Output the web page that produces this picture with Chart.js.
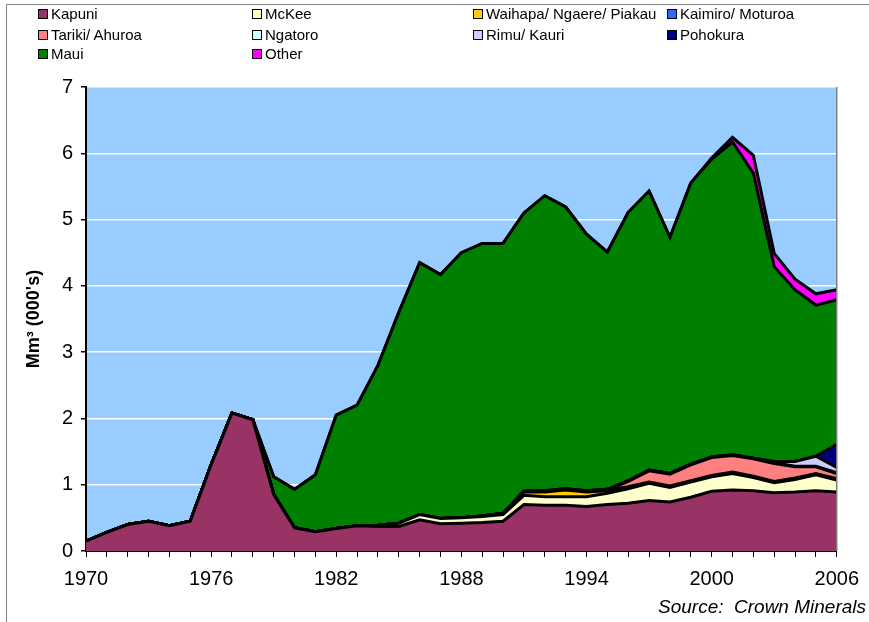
<!DOCTYPE html>
<html>
<head>
<meta charset="utf-8">
<script src="https://cdn.jsdelivr.net/npm/chart.js@4.4.1/dist/chart.umd.min.js"></script>
<style>
  html, body { margin: 0; padding: 0; background: #fff; overflow: hidden; }
  #wrap { position: relative; width: 869px; height: 622px; overflow: hidden; }
  #legend .item { position: absolute; font: 15px "Liberation Sans", Arial, sans-serif; color: #000; white-space: nowrap; line-height: 18px; }
  #legend .box { display: inline-block; width: 8px; height: 8px; border: 1px solid #000; margin-right: 3px; vertical-align: 0px; }
  #source { position: absolute; left: 658px; top: 596px; font: italic 19px "Liberation Sans", Arial, sans-serif; white-space: nowrap; }
</style>
</head>
<body>
<div id="wrap">
  <canvas id="myChart" width="869" height="622"></canvas>
  <div id="legend"></div>
  <div id="source">Source:&nbsp; Crown Minerals</div>
</div>
<script>
// years on the x axis
var years = [1970, 1971, 1972, 1973, 1974, 1975, 1976, 1977, 1978, 1979,
             1980, 1981, 1982, 1983, 1984, 1985, 1986, 1987, 1988, 1989,
             1990, 1991, 1992, 1993, 1994, 1995, 1996, 1997, 1998, 1999,
             2000, 2001, 2002, 2003, 2004, 2005, 2006];

// production by field, Mm3 (000's)
var kapuni = [0.15, 0.28, 0.40, 0.45, 0.38, 0.45, 1.30, 2.08, 1.98, 0.85,
              0.35, 0.29, 0.34, 0.38, 0.37, 0.37, 0.47, 0.41, 0.42, 0.43,
              0.45, 0.70, 0.69, 0.69, 0.67, 0.70, 0.72, 0.76, 0.74, 0.81,
              0.90, 0.92, 0.91, 0.88, 0.89, 0.91, 0.89];
var mckee = [0, 0, 0, 0, 0, 0, 0, 0, 0, 0,
             0, 0, 0, 0, 0.02, 0.05, 0.08, 0.08, 0.08, 0.09,
             0.10, 0.14, 0.13, 0.13, 0.15, 0.17, 0.22, 0.26, 0.22, 0.23,
             0.22, 0.25, 0.20, 0.15, 0.19, 0.24, 0.18];
var waihapa = [0, 0, 0, 0, 0, 0, 0, 0, 0, 0,
               0, 0, 0, 0, 0, 0, 0, 0, 0, 0.01,
               0.02, 0.05, 0.07, 0.10, 0.07, 0.04, 0.02, 0.01, 0.01, 0.01,
               0.01, 0.01, 0.01, 0.01, 0.01, 0.01, 0.01];
var kaimiro = [0, 0, 0, 0, 0, 0, 0, 0, 0, 0,
               0, 0, 0, 0, 0, 0, 0, 0, 0, 0,
               0, 0.01, 0.01, 0.01, 0.01, 0.01, 0.01, 0.01, 0.01, 0.01,
               0.01, 0.01, 0.01, 0.01, 0.01, 0.01, 0.01];
var tariki = [0, 0, 0, 0, 0, 0, 0, 0, 0, 0,
              0, 0, 0, 0, 0, 0, 0, 0, 0, 0,
              0, 0, 0, 0, 0, 0, 0.08, 0.17, 0.18, 0.24,
              0.27, 0.25, 0.26, 0.27, 0.17, 0.10, 0.08];
var ngatoro = [0, 0, 0, 0, 0, 0, 0, 0, 0, 0,
               0, 0, 0, 0, 0, 0, 0, 0, 0, 0,
               0, 0, 0.01, 0.01, 0.01, 0.01, 0.01, 0.01, 0.01, 0.01,
               0.01, 0.01, 0.01, 0.01, 0.01, 0.01, 0.01];
var rimu = [0, 0, 0, 0, 0, 0, 0, 0, 0, 0,
            0, 0, 0, 0, 0, 0, 0, 0, 0, 0,
            0, 0, 0, 0, 0, 0, 0, 0, 0, 0,
            0, 0, 0, 0.02, 0.07, 0.15, 0.08];
var pohokura = [0, 0, 0, 0, 0, 0, 0, 0, 0, 0,
                0, 0, 0, 0, 0, 0, 0, 0, 0, 0,
                0, 0, 0, 0, 0, 0, 0, 0, 0, 0,
                0, 0, 0, 0, 0, 0, 0.35];
var maui = [0, 0, 0, 0, 0, 0, 0, 0, 0, 0.27,
            0.58, 0.86, 1.71, 1.82, 2.41, 3.18, 3.80, 3.68, 4.00, 4.11,
            4.07, 4.20, 4.45, 4.25, 3.87, 3.58, 4.05, 4.21, 3.56, 4.24,
            4.49, 4.72, 4.30, 2.94, 2.59, 2.28, 2.18];
var other = [0, 0, 0, 0, 0, 0, 0, 0, 0, 0,
             0, 0, 0, 0, 0, 0, 0, 0, 0, 0,
             0, 0, 0, 0, 0, 0, 0, 0, 0, 0,
             0.02, 0.07, 0.27, 0.20, 0.16, 0.17, 0.15];

var seriesNames = ['Kapuni', 'McKee', 'Waihapa/ Ngaere/ Piakau', 'Kaimiro/ Moturoa',
                   'Tariki/ Ahuroa', 'Ngatoro', 'Rimu/ Kauri', 'Pohokura', 'Maui', 'Other'];
var seriesData = [kapuni, mckee, waihapa, kaimiro, tariki, ngatoro, rimu, pohokura, maui, other];
var seriesColors = ['#993366', '#ffffcc', '#ffcc00', '#3366ff', '#ff8080',
                    '#ccffff', '#ccccff', '#000080', '#008000', '#ff00ff'];

var FONT = '"Liberation Sans", Arial, sans-serif';

// legend in 4 columns, like the excel one
var legendCols = [38, 252, 473, 667];
var legendRows = [5, 26, 45];
var legendEl = document.getElementById('legend');
for (var i = 0; i < seriesNames.length; i++) {
  var item = document.createElement('div');
  item.className = 'item';
  item.style.left = legendCols[i % 4] + 'px';
  item.style.top = legendRows[Math.floor(i / 4)] + 'px';
  item.innerHTML = '<span class="box" style="background:' + seriesColors[i] + '"></span>' + seriesNames[i];
  legendEl.appendChild(item);
}

var datasets = [];
for (var j = 0; j < seriesNames.length; j++) {
  datasets.push({
    label: seriesNames[j],
    data: seriesData[j],
    backgroundColor: seriesColors[j],
    borderColor: '#000000',
    borderWidth: 3,
    pointRadius: 0,
    tension: 0,
    fill: j === 0 ? 'origin' : '-1'
  });
}

// light blue plot area + frame lines
var plotFrame = {
  id: 'plotFrame',
  beforeDraw: function(chart) {
    var ctx = chart.ctx;
    var a = chart.chartArea;
    ctx.save();
    ctx.fillStyle = '#ffffff';
    ctx.fillRect(0, 0, chart.width, chart.height);
    ctx.fillStyle = '#99ccff';
    ctx.fillRect(a.left, a.top, a.right - a.left, a.bottom - a.top);
    ctx.strokeStyle = '#808080';
    ctx.lineWidth = 1;
    ctx.beginPath();
    ctx.moveTo(6.5, chart.height);
    ctx.lineTo(6.5, 4.5);
    ctx.lineTo(chart.width, 4.5);
    ctx.stroke();
    ctx.restore();
  },
  afterDatasetsDraw: function(chart) {
    var ctx = chart.ctx;
    var a = chart.chartArea;
    ctx.save();
    ctx.strokeStyle = '#808080';
    ctx.lineWidth = 1.5;
    ctx.beginPath();
    ctx.moveTo(a.right, a.top);
    ctx.lineTo(a.right, a.bottom);
    ctx.stroke();
    ctx.restore();
  }
};

var config = {
  type: 'line',
  data: { labels: years, datasets: datasets },
  plugins: [plotFrame],
  options: {
    responsive: false,
    animation: false,
    devicePixelRatio: 1,
    layout: { padding: { top: 87, right: 31, left: 0, bottom: 0 } },
    plugins: { legend: { display: false }, tooltip: { enabled: false } },
    scales: {
      x: {
        type: 'category',
        offset: false,
        grid: { drawOnChartArea: false, drawTicks: true, tickLength: 6, tickColor: '#000000', lineWidth: 1 },
        border: { color: '#000000', width: 2 },
        ticks: {
          autoSkip: false,
          maxRotation: 0,
          padding: 10,
          color: '#000000',
          font: { family: FONT, size: 20 },
          callback: function(val, index) {
            var y = years[index];
            return (y - 1970) % 6 === 0 ? String(y) : '';
          }
        },
        afterFit: function(scale) { scale.height = 71; }
      },
      y: {
        stacked: true,
        min: 0,
        max: 7,
        grid: { color: '#ffffff', lineWidth: 1.5, tickLength: 5, tickColor: '#000000' },
        border: { color: '#000000', width: 2 },
        ticks: { stepSize: 1, padding: 8, color: '#000000', font: { family: FONT, size: 20 } },
        title: {
          display: true,
          text: 'Mm\u00b3 (000\'s)',
          color: '#000000',
          font: { family: FONT, size: 18, weight: 'bold' },
          padding: { top: 23, bottom: 0 }
        },
        afterFit: function(scale) { scale.width = 86; }
      }
    }
  }
};

var myChart = new Chart(document.getElementById('myChart'), config);
</script>
</body>
</html>
